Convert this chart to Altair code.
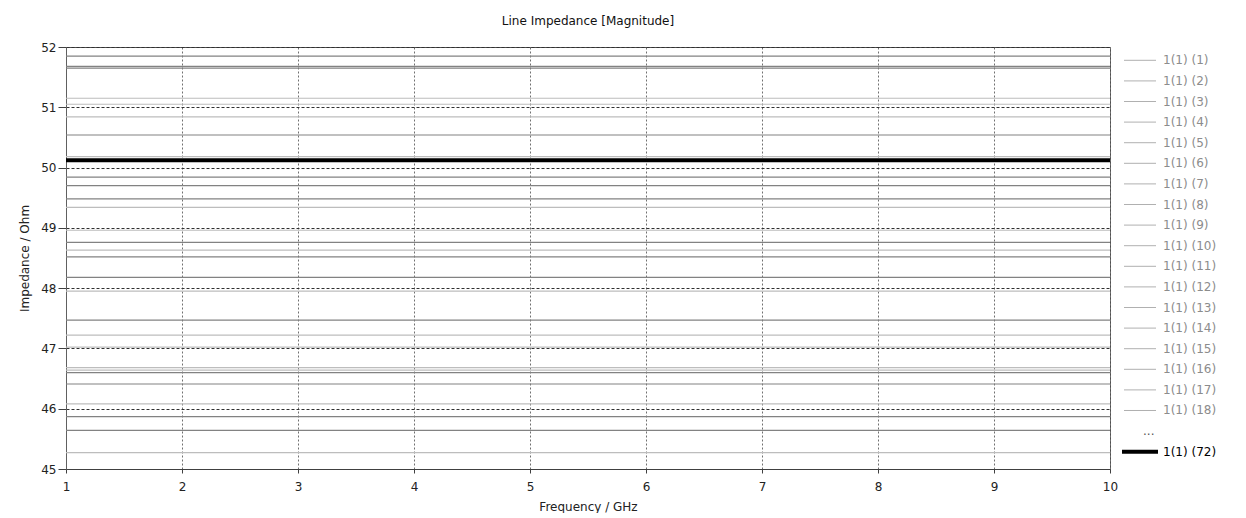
import altair as alt
import pandas as pd

TITLE = "Line Impedance [Magnitude]"
X_TITLE = "Frequency / GHz"
Y_TITLE = "Impedance / Ohm"

FREQ_GHZ = [1, 10]
X_TICKS = [1, 2, 3, 4, 5, 6, 7, 8, 9, 10]
Y_TICKS = [45, 46, 47, 48, 49, 50, 51, 52]

# impedance of the flat grey traces (Ohm)
LINE_VALUES = [51.85, 51.68, 51.65, 51.15, 51.05, 50.84, 50.54, 50.18,
               49.84, 49.70, 49.48, 49.34, 48.96, 48.76, 48.63, 48.52,
               48.18, 47.95, 47.47, 47.22, 47.02, 46.68, 46.64, 46.60,
               46.41, 46.08, 45.87, 45.64, 45.27]
LINE_SHADES = ["mid", "mid", "mid", "light", "light", "light", "mid", "light",
               "mid", "mid", "mid", "light", "light", "mid", "light", "mid",
               "mid", "light", "mid", "light", "light", "light", "light", "mid",
               "mid", "light", "mid", "mid", "light"]
HIGHLIGHT_VALUE = 50.12

LEGEND_LABELS = [f"1(1) ({i})" for i in range(1, 19)] + ["...", "1(1) (72)"]
LEGEND_KIND = ["grey"] * 18 + ["gap", "bold"]

FONT = "DejaVu Sans"

rows = []
for i, (v, s) in enumerate(zip(LINE_VALUES, LINE_SHADES)):
    for f in FREQ_GHZ:
        rows.append({"series": i, "freq": f, "z": v, "shade": s})
lines_df = pd.DataFrame(rows)
hl_df = pd.DataFrame({"freq": FREQ_GHZ, "z": [HIGHLIGHT_VALUE] * len(FREQ_GHZ)})

xscale = alt.Scale(domain=[1, 10], nice=False, zero=False)
yscale = alt.Scale(domain=[45, 52], nice=False, zero=False)

xaxis = alt.Axis(values=X_TICKS, format="d", title=X_TITLE, tickSize=4, labelPadding=8,
                 titlePadding=9, grid=True, gridDash=[2, 2], gridColor="#707070",
                 gridWidth=1, domainColor="#404040", tickColor="#404040",
                 labelFlush=False)
yaxis = alt.Axis(values=Y_TICKS, format="d", title=Y_TITLE, tickSize=8, labelPadding=2,
                 titlePadding=9, grid=True, gridDash=[3, 2], gridColor="#303030",
                 gridWidth=1, domainColor="#606060", tickColor="#404040")

grey_lines = alt.Chart(lines_df).mark_line(strokeWidth=1.2).encode(
    x=alt.X("freq:Q", scale=xscale, axis=xaxis),
    y=alt.Y("z:Q", scale=yscale, axis=yaxis),
    detail="series:N",
    color=alt.Color("shade:N", scale=alt.Scale(domain=["mid", "light"],
                                               range=["#828282", "#bdbdbd"]),
                    legend=None),
)
thick = alt.Chart(hl_df).mark_line(strokeWidth=4, color="#000000").encode(
    x=alt.X("freq:Q", scale=xscale),
    y=alt.Y("z:Q", scale=yscale),
)

main = alt.layer(grey_lines, thick).properties(
    width=1044, height=422,
    title=alt.Title(TITLE, anchor="middle", frame="group", offset=13,
                    fontSize=12, font=FONT, fontWeight="normal", color="#111111"),
)

leg_df = pd.DataFrame({"label": LEGEND_LABELS, "kind": LEGEND_KIND,
                       "row": list(range(1, len(LEGEND_LABELS) + 1))})
ly = alt.Y("row:Q", scale=alt.Scale(domain=[0.354, 20.84], reverse=True), axis=None)

leg_grey = alt.Chart(leg_df).transform_filter("datum.kind == 'grey'").mark_rule(
    strokeWidth=1, color="#b0b0b0").encode(x=alt.value(0), x2=alt.value(32), y=ly)
leg_bold = alt.Chart(leg_df).transform_filter("datum.kind == 'bold'").mark_rule(
    strokeWidth=4, color="#000000").encode(x=alt.value(-2), x2=alt.value(34), y=ly)
leg_text = alt.Chart(leg_df).transform_filter("datum.kind != 'gap'").mark_text(
    align="left", baseline="middle", font=FONT, fontSize=12).encode(
    x=alt.value(39), y=ly, text="label:N",
    color=alt.Color("kind:N", scale=alt.Scale(domain=["grey", "bold"],
                                              range=["#8c8c8c", "#000000"]),
                    legend=None))
leg_gap = alt.Chart(leg_df).transform_filter("datum.kind == 'gap'").mark_text(
    align="left", baseline="middle", font=FONT, fontSize=12, color="#555555").encode(
    x=alt.value(19), y=ly, text="label:N")

legend = alt.layer(leg_grey, leg_bold, leg_text, leg_gap).properties(
    width=100, height=422, view=alt.ViewBackground(stroke=None))

chart = alt.hconcat(main, legend, spacing=14, bounds="flush").resolve_scale(
    color="independent", y="independent").properties(
    padding={"left": 10, "top": 6, "right": 5, "bottom": 0}
).configure_view(stroke="#505050").configure_axis(
    labelFont=FONT, labelFontSize=12, labelColor="#222222",
    titleFont=FONT, titleFontSize=12, titleFontWeight="normal", titleColor="#222222",
)

chart.save("out.html", embed_options={"renderer": "svg", "actions": False})
